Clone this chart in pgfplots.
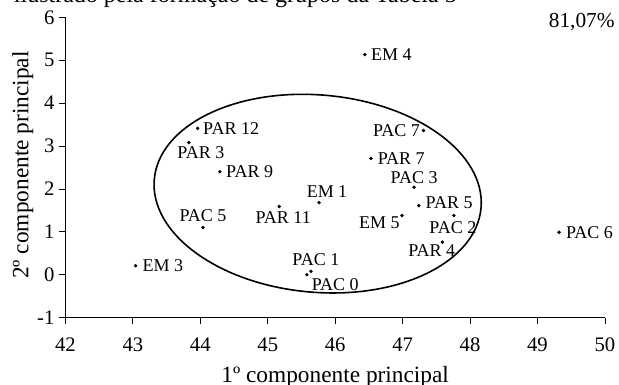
\documentclass[border=0pt]{standalone}
\usepackage{pgfplots}
\pgfplotsset{compat=1.18}
\usepackage{fontspec}
\setmainfont{Liberation Serif}

\begin{document}
\begin{tikzpicture}[lbl/.style={inner sep=0pt, font=\fontsize{13.5}{15}\selectfont}]
\useasboundingbox (0,0) rectangle (464.25pt,288.75pt);
\node[anchor=base east, font=\fontsize{18}{21}\selectfont, inner sep=0pt] at (342.75pt,286.5pt) {ilustrado pela formação de grupos da Tabela 5};
\begin{axis}[
  at={(49.1pt,50.5pt)}, anchor=south west,
  scale only axis, width=404.6pt, height=225.3pt,
  xmin=42, xmax=50, ymin=-1, ymax=6,
  xtick={42,43,...,50}, ytick={-1,0,...,6},
  axis lines=left, axis line style={-, line width=0.6pt},
  tick align=outside, major tick length=4.8pt,
  tick style={line width=0.6pt, black},
  /pgf/number format/assume math mode=true,
  ticklabel style={font=\fontsize{15.5}{18}\selectfont},
  xticklabel style={yshift=-7pt},
  clip=false,
  xlabel={1º componente principal},
  ylabel={2º componente principal},
  xlabel style={at={(rel axis cs:0.5,0)}, anchor=base, yshift=-48.75pt, font=\fontsize{17.5}{20}\selectfont},
  ylabel style={at={([xshift=-27.75pt]rel axis cs:0,0.508)}, anchor=base, font=\fontsize{17.5}{20}\selectfont},
]
\addplot[only marks, mark=*, mark size=1.1pt, black] coordinates {
(46.44,5.13) (47.31,3.36) (46.53,2.71) (47.17,2.04) (43.96,3.41)
(43.83,3.08) (44.29,2.40) (44.04,1.10) (45.17,1.59) (43.04,0.21)
(45.64,0.08) (45.58,0.00) (45.76,1.68) (46.99,1.38) (47.24,1.61)
(47.76,1.38) (47.59,0.76) (49.32,0.99)
};
\node[lbl, anchor=west, xshift=4.5pt] at (axis cs:46.44,5.13) {EM 4};
\node[lbl, anchor=east, xshift=-2.5pt] at (axis cs:47.31,3.36) {PAC 7};
\node[lbl, anchor=west, xshift=5pt] at (axis cs:46.53,2.71) {PAR 7};
\node[lbl, anchor=south, yshift=2.25pt] at (axis cs:47.17,2.04) {PAC 3};
\node[lbl, anchor=west, xshift=4pt] at (axis cs:43.96,3.41) {PAR 12};
\node[lbl, anchor=north, xshift=9pt, yshift=-2.5pt] at (axis cs:43.83,3.08) {PAR 3};
\node[lbl, anchor=west, xshift=4.5pt] at (axis cs:44.29,2.40) {PAR 9};
\node[lbl, anchor=south, yshift=4.5pt] at (axis cs:44.04,1.10) {PAC 5};
\node[lbl, anchor=north, xshift=3pt, yshift=-4pt] at (axis cs:45.17,1.59) {PAR 11};
\node[lbl, anchor=west, xshift=5pt] at (axis cs:43.04,0.21) {EM 3};
\node[lbl, anchor=south, xshift=3.75pt, yshift=3.75pt] at (axis cs:45.64,0.08) {PAC 1};
\node[lbl, anchor=north west, xshift=3.5pt, yshift=-2.5pt] at (axis cs:45.58,0.00) {PAC 0};
\node[lbl, anchor=south, xshift=6pt, yshift=3.75pt] at (axis cs:45.76,1.68) {EM 1};
\node[lbl, anchor=east, xshift=-1.5pt, yshift=-5.5pt] at (axis cs:46.99,1.38) {EM 5};
\node[lbl, anchor=west, xshift=5pt, yshift=2.5pt] at (axis cs:47.24,1.61) {PAR 5};
\node[lbl, anchor=north, xshift=-0.75pt, yshift=-4.5pt] at (axis cs:47.76,1.38) {PAC 2};
\node[lbl, anchor=north, xshift=-8pt, yshift=-2pt] at (axis cs:47.59,0.76) {PAR 4};
\node[lbl, anchor=west, xshift=5pt] at (axis cs:49.32,0.99) {PAC 6};
\draw[line width=1.2pt] (axis cs:45.74,1.89) ellipse [x radius=123pt, y radius=74pt, rotate=-5];
\node[anchor=east, inner sep=0pt, font=\fontsize{16}{19}\selectfont] at (rel axis cs:1.0,1.0) [xshift=7.5pt, yshift=-3.5pt] {81,07\%};
\end{axis}
\end{tikzpicture}
\end{document}
